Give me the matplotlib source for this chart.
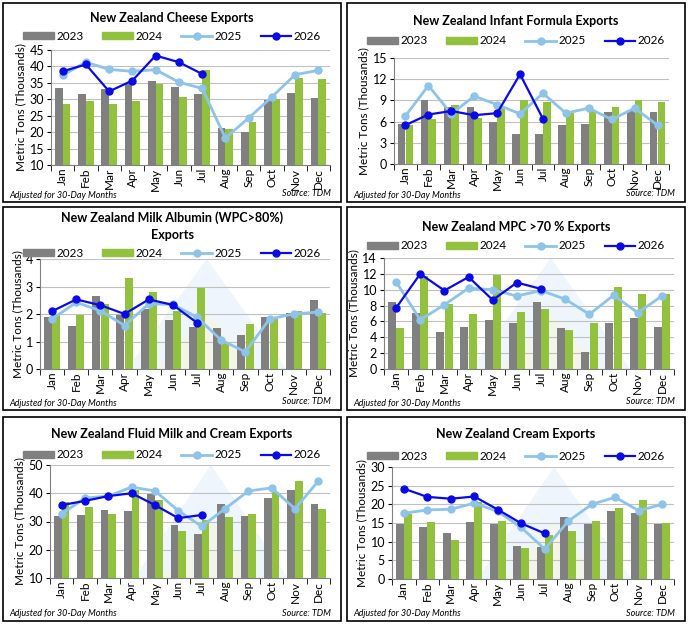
import matplotlib
matplotlib.use("Agg")
import matplotlib.pyplot as plt
import numpy as np
from matplotlib.patches import Rectangle, Polygon
from matplotlib.lines import Line2D

plt.rcParams['font.family'] = ['Lato', 'DejaVu Sans']

months = ["Jan","Feb","Mar","Apr","May","Jun","Jul","Aug","Sep","Oct","Nov","Dec"]

cheese_2023 = [33.5,31.7,33,35,35.7,33.8,31.7,21.4,19.9,29.8,32,30.5]
cheese_2024 = [28.7,29.6,28.7,29.6,34.8,30.8,39,21,23,30.2,36.6,36.3]
cheese_2025 = [37.3,41.3,39.1,38.5,39,35.2,33.3,18.2,24.3,30.7,37.5,38.8]
cheese_2026 = [38.5,40.6,32.4,35.7,43.3,41.3,37.7]

infant_2023 = [5.6,9.1,8.1,8.0,5.9,4.3,4.2,5.5,5.6,7.4,7.6,7.3]
infant_2024 = [5.5,6.3,8.3,6.5,8.1,9.1,8.8,7.2,7.6,8.0,9.0,8.8]
infant_2025 = [6.8,11.1,7.1,9.6,8.4,7.1,10.0,7.2,7.9,6.3,7.9,5.5]
infant_2026 = [5.5,7.0,7.5,6.9,7.2,12.7,6.4]

albumin_2023 = [1.88,1.55,2.65,1.95,2.17,1.8,1.52,1.48,1.22,1.88,2.05,2.52]
albumin_2024 = [2.0,1.95,2.35,3.3,2.8,2.1,2.93,1.0,1.65,1.85,2.12,2.02]
albumin_2025 = [1.82,2.42,2.12,1.58,2.37,2.35,1.88,1.05,0.62,1.82,2.0,2.07]
albumin_2026 = [2.1,2.53,2.32,2.0,2.53,2.33,1.68]

mpc_2023 = [8.4,7.1,4.7,5.3,6.2,5.8,8.4,5.2,2.2,5.8,6.4,5.3]
mpc_2024 = [5.2,11.7,8.2,6.9,11.8,7.2,7.6,4.9,5.8,10.4,9.5,9.4]
mpc_2025 = [11.0,6.2,8.1,10.2,10.0,9.2,9.9,8.8,6.9,9.3,7.1,9.2]
mpc_2026 = [7.7,12.0,9.9,11.6,8.7,10.9,10.1]

fluid_2023 = [31.8,32.2,34,33.6,39.6,28.6,25.5,36.3,31.8,38.2,41.2,36.3]
fluid_2024 = [37,35.3,32.5,41.3,37.5,26.5,30.7,31.5,32.8,40.3,44.2,34.3]
fluid_2025 = [32.7,38.3,39,42.2,40.8,33.8,28.3,34.5,40.8,41.9,34.5,44.3]
fluid_2026 = [35.8,37.3,39,40,35.8,31.2,32.3]

cream_2023 = [14.8,14,12.4,15.3,14.8,8.9,8.7,16.6,14.8,18.2,17.7,14.8]
cream_2024 = [17.3,15.3,10.5,20.5,15.6,8.4,11.8,12.9,15.6,19,21.1,15]
cream_2025 = [17.6,18.5,18.7,20.3,18.1,13.8,8.0,15.5,20,21.9,18.3,20]
cream_2026 = [24.2,22,21.5,22.1,18.6,14.9,12.2]

W, H = 688, 625
fig = plt.figure(figsize=(6.88, 6.25), dpi=100)

GRAY = "#808080"; GREEN = "#92c13e"; LB = "#8ec3ea"; DB = "#0a0ae6"

def px(x0, y0, x1, y1):
    return [x0 / W, 1 - y1 / H, (x1 - x0) / W, (y1 - y0) / H]

def panel(box, axbox, title, d23, d24, d25, d26, ylim, yticks, title_y, leg_y, watermark=False):
    bx0, by0, bx1, by1 = box
    fig.patches.append(Rectangle((bx0 / W, 1 - by1 / H), (bx1 - bx0) / W, (by1 - by0) / H,
                                 transform=fig.transFigure, fill=False, ec="black", lw=1.2))
    ax = fig.add_axes(px(*axbox))
    x = np.arange(12)
    if watermark:
        ax.add_patch(Polygon([(0.3, 0), (0.575, 1.0), (0.85, 0)], closed=True, transform=ax.transAxes,
                             fc="#eef5fc", ec="none", zorder=0))
        ax.add_patch(Polygon([(0.4, 0), (0.575, 0.5), (0.75, 0)], closed=True, transform=ax.transAxes,
                             fc="#f3f5ea", ec="none", zorder=0.1))
    ax.bar(x - 0.17, d23, width=0.33, color=GRAY, zorder=2)
    ax.bar(x + 0.17, d24, width=0.33, color=GREEN, zorder=2)
    ax.plot(x, d25, color=LB, lw=2, marker="o", ms=5, mec=LB, mfc=LB, zorder=3)
    ax.plot(np.arange(len(d26)), d26, color=DB, lw=1.6, marker="o", ms=5, zorder=4)
    ax.set_ylim(*ylim)
    ax.set_yticks(yticks)
    ax.set_xlim(-0.5, 11.5)
    ax.set_xticks(x)
    ax.set_xticklabels(months, rotation=90, fontsize=8.5)
    ax.tick_params(axis="y", labelsize=9, length=3, pad=2)
    ax.tick_params(axis="x", length=0, pad=2)
    ax.set_xticks(np.arange(-0.5, 12, 1), minor=True)
    ax.tick_params(axis="x", which="minor", length=4)
    ax.grid(axis="y", color="#c0c0c0", lw=0.8, zorder=1)
    ax.set_axisbelow(True)
    for s in ["top", "right"]:
        ax.spines[s].set_visible(False)
    ax.spines["left"].set_color("#808080")
    ax.spines["bottom"].set_color("#808080")
    ax.set_ylabel("Metric Tons (Thousands)", fontsize=8.5, labelpad=2)
    cx = (bx0 + bx1) / 2 / W
    fig.text(cx, 1 - title_y / H, title, ha="center", va="center", fontsize=9, fontweight="bold", linespacing=1.5)
    handles = [Rectangle((0, 0), 1, 1, color=GRAY), Rectangle((0, 0), 1, 1, color=GREEN),
               Line2D([], [], color=LB, lw=2, marker="o", ms=5),
               Line2D([], [], color=DB, lw=1.6, marker="o", ms=5)]
    fig.legend(handles, ["2023", "2024", "2025", "2026"], loc="center", ncol=4, frameon=False,
               bbox_to_anchor=(cx, 1 - leg_y / H), fontsize=8.5, handlelength=2.6, handleheight=0.6,
               columnspacing=1.6, handletextpad=0.2)
    fig.text((bx0 + 6) / W, 1 - (by1 - 7) / H, "Adjusted for 30-Day Months", fontsize=6.5, style="italic", va="center")
    fig.text((bx1 - 10) / W, 1 - (by1 - 8) / H, "Source: TDM", fontsize=6.5, style="italic", va="center", ha="right")
    return ax

panel((3, 3, 341, 202), (51, 50, 330, 165), "New Zealand Cheese Exports",
      cheese_2023, cheese_2024, cheese_2025, cheese_2026, (10, 45), range(10, 46, 5), 18, 36)
panel((347, 3, 685, 202), (394, 58, 669, 164), "New Zealand Infant Formula Exports",
      infant_2023, infant_2024, infant_2025, infant_2026, (0, 15), range(0, 16, 3), 21, 41)
panel((3, 207, 341, 410), (40, 259, 330, 369), "New Zealand Milk Albumin (WPC>80%)\nExports",
      albumin_2023, albumin_2024, albumin_2025, albumin_2026, (0, 4), range(0, 5), 226, 253, True)
panel((347, 207, 685, 410), (384, 258, 674, 369), "New Zealand MPC >70 % Exports",
      mpc_2023, mpc_2024, mpc_2025, mpc_2026, (0, 14), range(0, 15, 2), 227, 246, True)
panel((3, 417, 341, 621), (50, 465, 330, 578), "New Zealand Fluid Milk and Cream Exports",
      fluid_2023, fluid_2024, fluid_2025, fluid_2026, (10, 50), range(10, 51, 10), 434, 455, True)
panel((347, 417, 685, 621), (392, 467, 674, 579), "New Zealand Cream Exports",
      cream_2023, cream_2024, cream_2025, cream_2026, (0, 30), range(0, 31, 5), 434, 456, True)

fig.savefig("out.png", dpi=100)
